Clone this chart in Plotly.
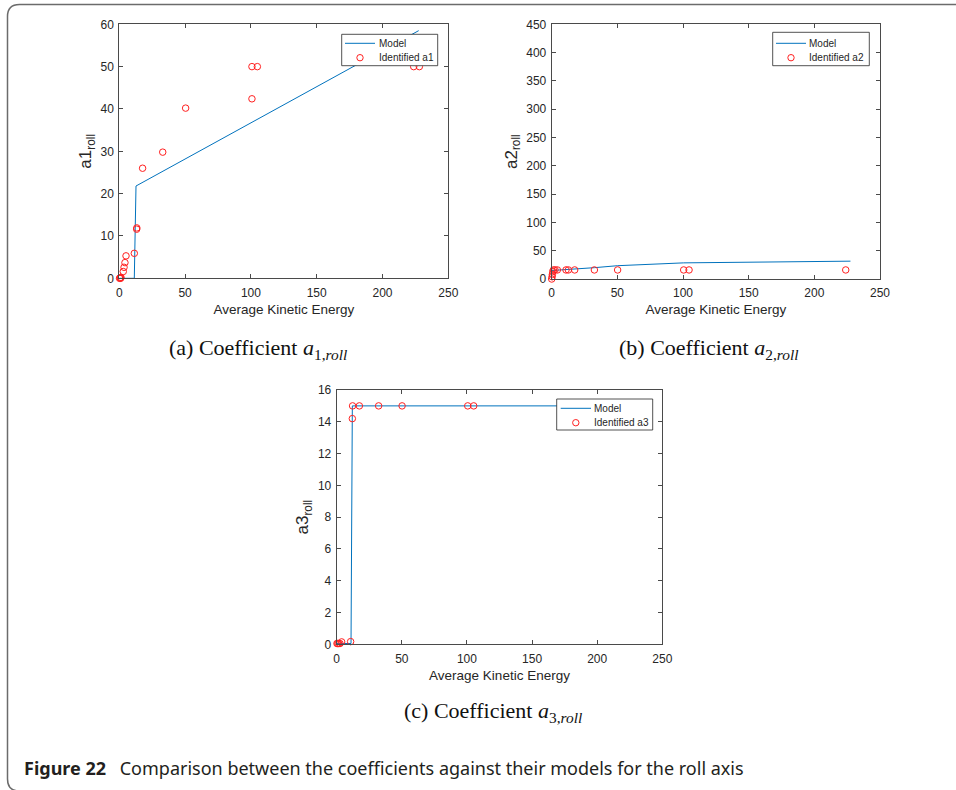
import plotly.graph_objects as go

W, H = 956, 790

# ---- identified coefficients and fitted models (roll axis) ----
a1_energy = [0.2, 0.6, 1.0, 1.3, 3.0, 3.6, 4.3, 5.1, 11.4, 13.2, 13.3, 17.7, 33.0, 50.4, 100.8, 100.8, 104.9, 223.7, 228.0]
a1_ident = [0.0, 0.1, 0.0, 0.2, 1.6, 2.6, 3.7, 5.3, 5.9, 11.6, 11.9, 26.0, 29.8, 40.2, 42.4, 50.0, 50.0, 50.0, 50.0]
a1_model_energy = [0.0, 11.4, 12.7, 227.5]
a1_model = [0.0, 0.0, 21.8, 58.5]

a2_energy = [0.0, 0.3, 0.5, 0.8, 1.3, 2.5, 4.3, 10.9, 12.7, 17.5, 32.5, 50.2, 100.5, 104.6, 223.9]
a2_ident = [0.0, 4.0, 8.0, 13.0, 16.0, 16.0, 16.0, 16.0, 16.0, 16.0, 16.0, 16.0, 16.0, 16.0, 16.0]
a2_model_energy = [0.0, 17.5, 32.5, 50.2, 100.5, 227.5]
a2_model = [15.0, 17.5, 20.0, 23.5, 28.5, 31.5]

a3_energy = [0.2, 0.8, 1.5, 2.5, 3.8, 10.7, 12.0, 12.2, 17.4, 32.2, 50.2, 100.6, 105.2, 224.0, 228.0]
a3_ident = [0.05, 0.05, 0.05, 0.05, 0.15, 0.17, 14.2, 15.0, 15.0, 15.0, 15.0, 15.0, 15.0, 15.0, 15.0]
a3_model_energy = [0.0, 11.0, 12.0, 228.0]
a3_model = [0.05, 0.05, 15.0, 15.0]

x_ticks = [0, 50, 100, 150, 200, 250]

MODEL_BLUE = "#0072BD"
MARK_RED = "#ff2020"
AX_GREY = "#262626"
SANS = "Liberation Sans, Arial, sans-serif"
TICK_FONT = dict(family=SANS, size=12, color=AX_GREY)
TITLE_FONT = dict(family=SANS, size=13.5, color=AX_GREY)


def px_x(px):
    return px / W


def px_y(py):
    return 1 - py / H


fig = go.Figure()

panels = [
    dict(n="", ex=a1_energy, ey=a1_ident, mx=a1_model_energy, my=a1_model, name="Identified a1"),
    dict(n="2", ex=a2_energy, ey=a2_ident, mx=a2_model_energy, my=a2_model, name="Identified a2"),
    dict(n="3", ex=a3_energy, ey=a3_ident, mx=a3_model_energy, my=a3_model, name="Identified a3"),
]

for p in panels:
    xa = "x" + p["n"]
    ya = "y" + p["n"]
    fig.add_trace(go.Scatter(
        x=p["mx"], y=p["my"], mode="lines", name="Model",
        line=dict(color=MODEL_BLUE, width=1), xaxis=xa, yaxis=ya,
        showlegend=False, cliponaxis=True,
    ))
    fig.add_trace(go.Scatter(
        x=p["ex"], y=p["ey"], mode="markers", name=p["name"],
        marker=dict(symbol="circle-open", size=6.5, color=MARK_RED, line=dict(width=1)),
        xaxis=xa, yaxis=ya, showlegend=False, cliponaxis=False,
    ))

axis_common = dict(
    showline=True, linecolor="#4a4a4a", linewidth=1, mirror="ticks",
    ticks="inside", ticklen=4, tickwidth=1, tickcolor="#4a4a4a",
    showgrid=False, zeroline=False, tickfont=TICK_FONT, automargin=False,
)

# plot-area boxes in pixels: (left, right, top, bottom)
boxes = {
    "": (119.3, 448.3, 24.3, 278.3),
    "2": (551.7, 880.0, 24.3, 279.0),
    "3": (336.7, 662.3, 390.0, 644.3),
}
y_specs = {
    "": dict(range=[0, 60], dtick=10, title="a1<sub>roll</sub>"),
    "2": dict(range=[0, 450], dtick=50, title="a2<sub>roll</sub>"),
    "3": dict(range=[0, 16], dtick=2, title="a3<sub>roll</sub>"),
}

layout = {}
for n, (l, r, t, b) in boxes.items():
    layout["xaxis" + n] = dict(
        axis_common, domain=[px_x(l), px_x(r)], anchor="y" + n,
        range=[0, 250], tickvals=x_ticks, ticklabelstandoff=3,
        title=dict(text="Average Kinetic Energy", font=TITLE_FONT, standoff=5),
    )
    ys = y_specs[n]
    layout["yaxis" + n] = dict(
        axis_common, domain=[px_y(b), px_y(t)], anchor="x" + n,
        range=ys["range"], dtick=ys["dtick"], ticklabelstandoff=2,
        title=dict(text=ys["title"], font=dict(TITLE_FONT, size=17), standoff=4),
    )

fig.update_layout(
    width=W, height=H, autosize=False,
    margin=dict(l=0, r=0, t=0, b=0, pad=0),
    paper_bgcolor="white", plot_bgcolor="white",
    showlegend=False,
    **layout,
)

# legend boxes (pixel layout): box l, t, r, b; line sample x0, x1; marker x; text x; row y's
legends = [
    dict(box=(341.7, 34.3, 437.7, 65.7), lx=(345.0, 375.0), mx=360.0, tx=377.7, rows=(43.3, 57.7), label="Identified a1"),
    dict(box=(772.7, 32.3, 869.3, 65.7), lx=(776.0, 806.0), mx=791.0, tx=808.3, rows=(43.3, 57.7), label="Identified a2"),
    dict(box=(556.7, 399.0, 652.7, 430.0), lx=(560.7, 591.0), mx=575.8, tx=592.7, rows=(408.3, 422.7), label="Identified a3"),
]
LEG_FONT = dict(family=SANS, size=10, color=AX_GREY)
for lg in legends:
    bl, bt, br, bb = lg["box"]
    fig.add_shape(type="rect", xref="paper", yref="paper", layer="above",
                  x0=px_x(bl), x1=px_x(br), y0=px_y(bb), y1=px_y(bt),
                  fillcolor="white", line=dict(color=AX_GREY, width=0.8))
    r1, r2 = lg["rows"]
    fig.add_shape(type="line", xref="paper", yref="paper", layer="above",
                  x0=px_x(lg["lx"][0]), x1=px_x(lg["lx"][1]), y0=px_y(r1), y1=px_y(r1),
                  line=dict(color=MODEL_BLUE, width=1))
    rad = 3.2
    fig.add_shape(type="circle", xref="paper", yref="paper", layer="above",
                  x0=px_x(lg["mx"] - rad), x1=px_x(lg["mx"] + rad),
                  y0=px_y(r2 + rad), y1=px_y(r2 - rad),
                  line=dict(color=MARK_RED, width=1))
    for txt, ry in (("Model", r1), (lg["label"], r2)):
        fig.add_annotation(text=txt, x=px_x(lg["tx"]), y=px_y(ry), xref="paper", yref="paper",
                           showarrow=False, xanchor="left", yanchor="middle", font=LEG_FONT,
                           borderpad=0)

# sub-figure captions
CAP_FONT = dict(family="Liberation Serif, Times New Roman, serif", size=22, color="#111111")
captions = [
    ("(a) Coefficient <i>a</i><sub>1,<i>roll</i></sub>", 258, 349),
    ("(b) Coefficient <i>a</i><sub>2,<i>roll</i></sub>", 708, 349),
    ("(c) Coefficient <i>a</i><sub>3,<i>roll</i></sub>", 493, 712),
]
for txt, cx, cy in captions:
    fig.add_annotation(
        text=txt, x=px_x(cx), y=px_y(cy), xref="paper", yref="paper",
        showarrow=False, xanchor="center", yanchor="middle", font=CAP_FONT,
    )

fig.add_annotation(
    text="<b>Figure 22</b>\u2002 Comparison between the coefficients against their models for the roll axis",
    x=px_x(22), y=px_y(768), xref="paper", yref="paper", showarrow=False,
    xanchor="left", yanchor="middle",
    font=dict(family="Noto Sans, sans-serif", size=18, color="#231f20"),
)

# rounded outer frame of the figure block
fl, ft, fb, rad = 7.5, 4.5, 791.0, 12.0
frame_path = (
    f"M {px_x(W + 5)},{px_y(ft)} L {px_x(fl + rad)},{px_y(ft)} "
    f"Q {px_x(fl)},{px_y(ft)} {px_x(fl)},{px_y(ft + rad)} "
    f"L {px_x(fl)},{px_y(fb - rad)} "
    f"Q {px_x(fl)},{px_y(fb)} {px_x(fl + rad)},{px_y(fb)} "
    f"L {px_x(W + 5)},{px_y(fb)}"
)
fig.add_shape(type="path", path=frame_path, xref="paper", yref="paper",
              line=dict(color="#6b6b6b", width=1.5))

fig.write_html("out.html")
